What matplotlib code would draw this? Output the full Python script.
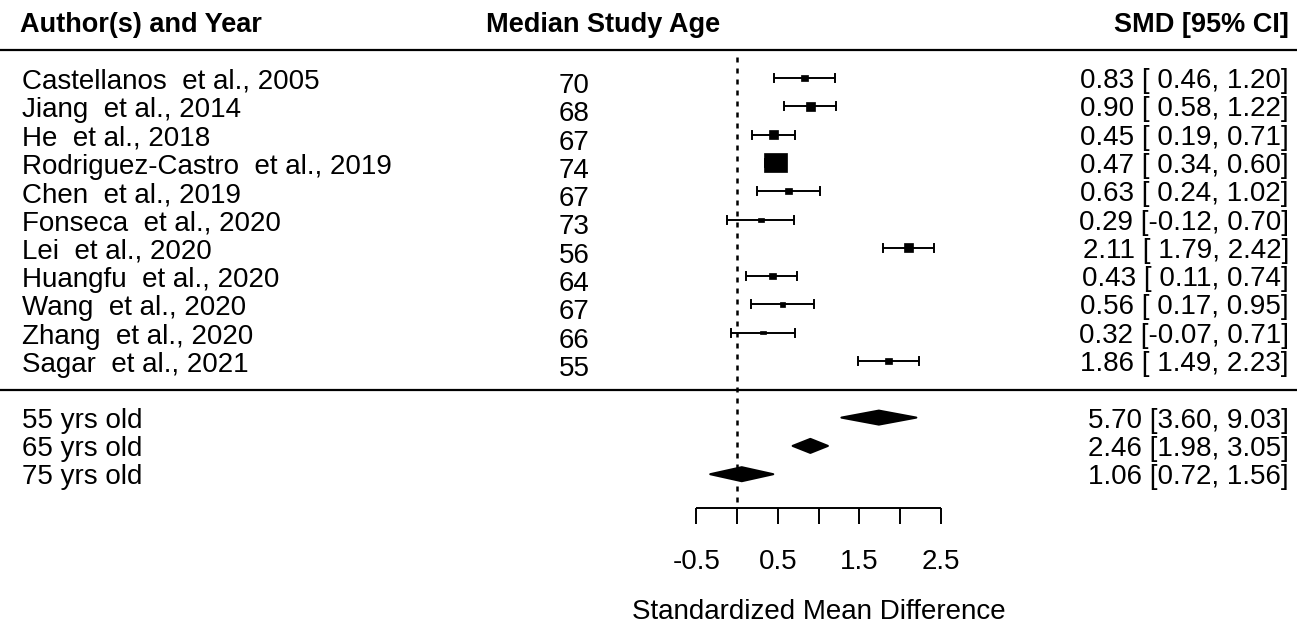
import numpy as np
import matplotlib
matplotlib.use("Agg")
import matplotlib.pyplot as plt
from matplotlib.patches import Rectangle, Polygon

# ---------------- data ----------------
studies = ["Castellanos  et al., 2005", "Jiang  et al., 2014", "He  et al., 2018",
           "Rodriguez-Castro  et al., 2019", "Chen  et al., 2019", "Fonseca  et al., 2020",
           "Lei  et al., 2020", "Huangfu  et al., 2020", "Wang  et al., 2020",
           "Zhang  et al., 2020", "Sagar  et al., 2021"]
median_age = [70, 68, 67, 74, 67, 73, 56, 64, 67, 66, 55]
smd = [0.83, 0.90, 0.45, 0.47, 0.63, 0.29, 2.11, 0.43, 0.56, 0.32, 1.86]
ci_lo = [0.46, 0.58, 0.19, 0.34, 0.24, -0.12, 1.79, 0.11, 0.17, -0.07, 1.49]
ci_hi = [1.20, 1.22, 0.71, 0.60, 1.02, 0.70, 2.42, 0.74, 0.95, 0.71, 2.23]

pred_labels = ["55 yrs old", "65 yrs old", "75 yrs old"]
pred_est = [5.70, 2.46, 1.06]       # exponentiated (ratio) scale
pred_lo = [3.60, 1.98, 0.72]
pred_hi = [9.03, 3.05, 1.56]

xticks = [-0.5, 0.0, 0.5, 1.0, 1.5, 2.0, 2.5]
xtick_labels = ["-0.5", "0.5", "1.5", "2.5"]
xtick_label_pos = [-0.5, 0.5, 1.5, 2.5]

# ---------------- style (pixel sizes) ----------------
box_w = [7, 9, 9, 23, 7, 6, 9, 7, 5, 6, 7]
box_h = [6, 9, 9, 19, 6, 4, 9, 6, 5, 3, 6]

W, H = 1297, 625
X0PX, XUNIT = 737.0, 81.5          # pixel of x=0, pixels per unit
ROW0, ROWH = 78.0, 28.3            # pixel of first row, pixels per row

fig = plt.figure(figsize=(W / 100, H / 100), dpi=100)
ax = fig.add_axes([0, 0, 1, 1])
ax.set_xlim((0 - X0PX) / XUNIT, (W - X0PX) / XUNIT)
ax.set_ylim((H - ROW0) / ROWH, (0 - ROW0) / ROWH)
ax.axis("off")

def xd(px):
    return (px - X0PX) / XUNIT

def yd(py):
    return (py - ROW0) / ROWH

def wd(px):
    return px / XUNIT

def hd(px):
    return px / ROWH

FONT = ["Liberation Sans", "DejaVu Sans"]
HFONT = ["Liberation Sans", "DejaVu Sans"]
FS = 20
LW = 1.4

n = len(studies)
rows = np.arange(n)
sum_rows = n + 1 + np.arange(len(pred_labels))

# header
ax.text(xd(20), yd(32), "Author(s) and Year", ha="left", va="baseline",
        fontsize=19.5, fontweight="bold", family=HFONT)
ax.text(xd(603), yd(32), "Median Study Age", ha="center", va="baseline",
        fontsize=19.5, fontweight="bold", family=HFONT)
ax.text(xd(1289), yd(32), "SMD [95% CI]", ha="right", va="baseline",
        fontsize=19.5, fontweight="bold", family=HFONT)

# horizontal rules
ax.plot([xd(0), xd(W)], [yd(50), yd(50)], color="black", lw=1.6, solid_capstyle="butt")
ax.plot([xd(0), xd(W)], [yd(390), yd(390)], color="black", lw=1.6, solid_capstyle="butt")

# reference line at 0
ax.plot([0, 0], [yd(57), yd(508)], color="black", lw=1.8,
        linestyle=(0, (2.0, 2.4)), zorder=1)

cap = hd(4)
for i in range(n):
    r = rows[i]
    ax.plot([ci_lo[i], ci_hi[i]], [r, r], color="black", lw=LW, solid_capstyle="butt")
    ax.plot([ci_lo[i], ci_lo[i]], [r - cap, r + cap], color="black", lw=LW)
    ax.plot([ci_hi[i], ci_hi[i]], [r - cap, r + cap], color="black", lw=LW)
    ax.add_patch(Rectangle((smd[i] - wd(box_w[i]) / 2, r - hd(box_h[i]) / 2),
                           wd(box_w[i]), hd(box_h[i]), facecolor="black",
                           edgecolor="black", lw=0.5, zorder=3))
    ax.text(xd(22), r + hd(11), studies[i], ha="left", va="baseline",
            fontsize=FS, family=FONT)
    ax.text(xd(574), r + hd(15), str(median_age[i]), ha="center", va="baseline",
            fontsize=FS, family=FONT)
    lo = f"{ci_lo[i]:5.2f}"
    ax.text(xd(1289), r + hd(10), f"{smd[i]:.2f} [{lo}, {ci_hi[i]:.2f}]", ha="right",
            va="baseline", fontsize=FS, family=FONT)

dh = hd(7)
for j in range(len(pred_labels)):
    r = sum_rows[j]
    e, lo, hi = np.log(pred_est[j]), np.log(pred_lo[j]), np.log(pred_hi[j])
    ax.add_patch(Polygon([[lo, r], [e, r - dh], [hi, r], [e, r + dh]], closed=True,
                         facecolor="black", edgecolor="black", lw=1.5,
                         joinstyle="round", zorder=3))
    ax.text(xd(22), r + hd(10), pred_labels[j], ha="left", va="baseline",
            fontsize=FS, family=FONT)
    ax.text(xd(1289), r + hd(10),
            f"{pred_est[j]:.2f} [{pred_lo[j]:.2f}, {pred_hi[j]:.2f}]",
            ha="right", va="baseline", fontsize=FS, family=FONT)

# x axis
ya = yd(508)
ax.plot([xticks[0], xticks[-1]], [ya, ya], color="black", lw=LW, solid_capstyle="butt")
for t in xticks:
    ax.plot([t, t], [ya, yd(524)], color="black", lw=LW, solid_capstyle="butt")
for t, lab in zip(xtick_label_pos, xtick_labels):
    ax.text(t, yd(569), lab, ha="center", va="baseline", fontsize=FS, family=FONT)
ax.text(1.0, yd(619), "Standardized Mean Difference", ha="center", va="baseline",
        fontsize=FS, family=FONT)

fig.savefig("out.png", dpi=100)
